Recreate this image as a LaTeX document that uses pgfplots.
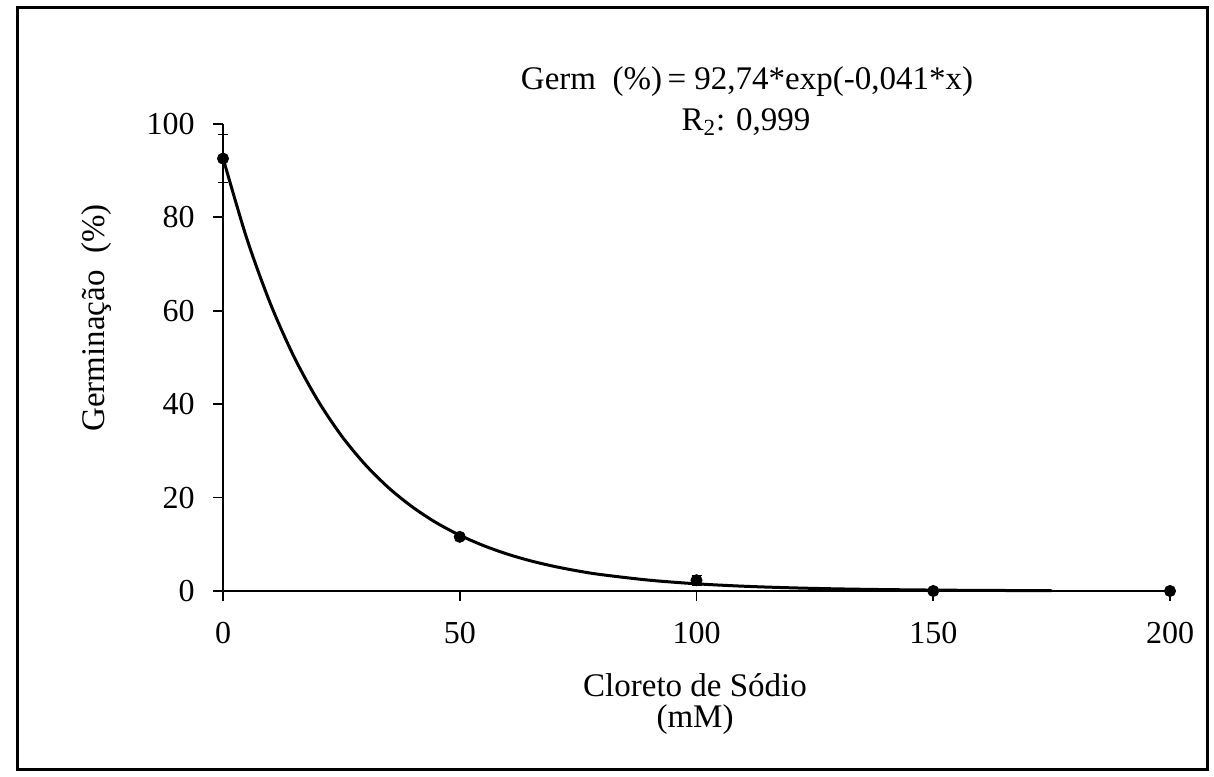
\documentclass[border=0pt]{standalone}
\usepackage{pgfplots}
\pgfplotsset{compat=1.18}
\usepackage{fontspec}
\setmainfont{Liberation Serif}
\begin{document}
\begin{tikzpicture}[x=1pt,y=1pt]
\fontsize{16.5}{19}\selectfont
\path[use as bounding box] (0,0) rectangle (607,388);
\draw[line width=1.5pt] (8.5,3.5) rectangle (603.5,384);
\begin{axis}[
  at={(111.5pt,92.5pt)}, anchor=origin,
  scale only axis, width=473.5pt, height=233.5pt,
  xmin=0, xmax=200, ymin=0, ymax=100,
  axis x line=bottom, axis y line=left,
  axis line style={-, line width=0.9pt, black},
  xtick={0,50,100,150,200}, ytick={0,20,40,60,80,100},
  tick align=outside, major tick length=5pt,
  tick style={line width=0.9pt, black},
  /pgf/number format/assume math mode=true,
  tick label style={font=\fontsize{16}{19}\selectfont},
  xticklabel style={yshift=-5pt},
  yticklabel style={xshift=-3.5pt},
  clip=false,
]
\addplot[black, line width=1.5pt, smooth, no marks] coordinates {
(0,92.74) (5,75.55) (10,61.55) (15,50.14) (20,40.85) (25,33.27) (30,27.11)
(35,22.08) (40,17.99) (45,14.65) (50,11.94) (55,9.73) (60,7.92) (65,6.45)
(70,5.26) (75,4.28) (80,3.49) (90,2.32) (100,1.54) (110,1.02) (120,0.68)
(130,0.45) (140,0.30) (150,0.20) (160,0.13) (175,0.07)
};
\addplot[black, only marks, mark=*, mark size=2.8pt,
  error bars/.cd, y dir=both, y explicit,
  error bar style={line width=0.8pt, black}, error mark options={rotate=90, mark size=2.5pt, black}]
  coordinates {
(0,92.6) +- (0,5.2)
(50,11.6) +- (0,0.5)
(100,2.3) +- (0,1.0)
(150,0) +- (0,0)
(200,0) +- (0,0)
};
\end{axis}
\node at (347.5,45.5) {Cloreto de Sódio};
\node at (347.5,28) {(mM)};
\node[rotate=90] at (48.5,229) {Germinação\ \ (\%)};
\node at (373.5,347) {Germ\ \ (\%)\,= 92,74*exp(-0,041*x)};
\node at (373,327) {R\textsubscript{2}: 0,999};
\end{tikzpicture}
\end{document}
